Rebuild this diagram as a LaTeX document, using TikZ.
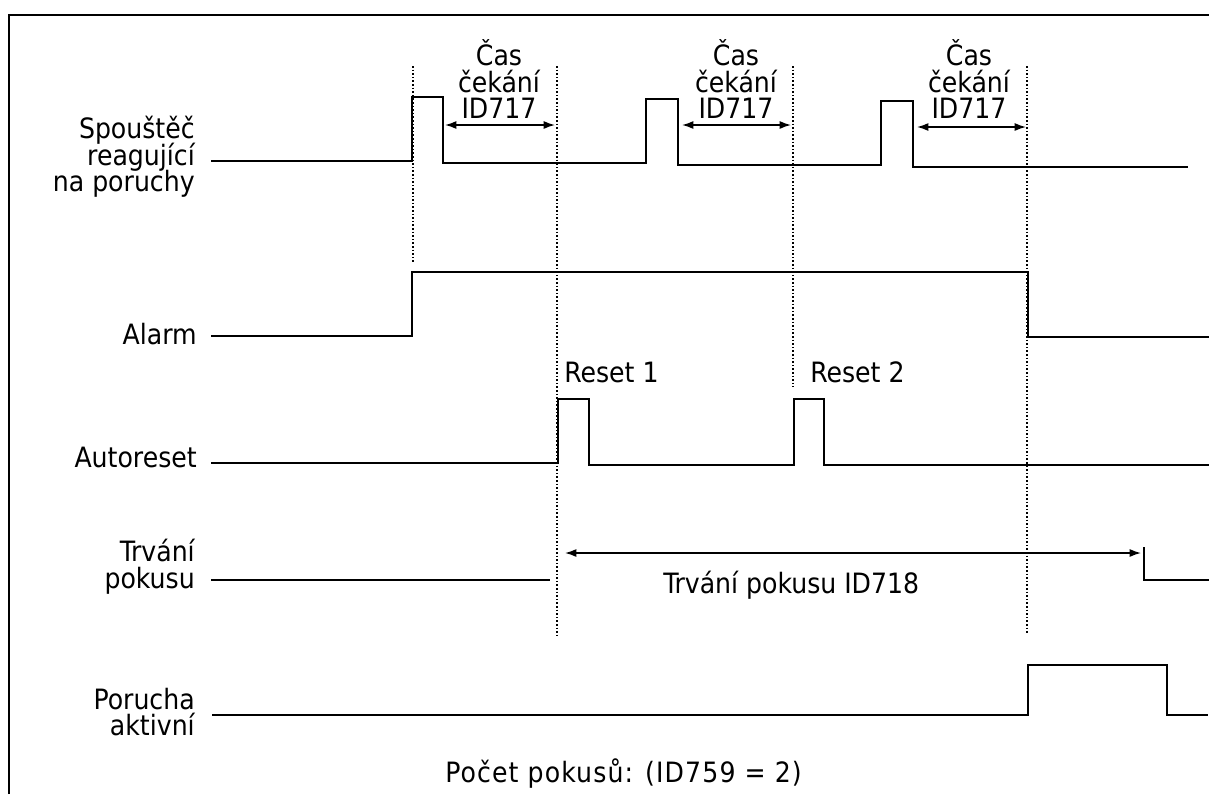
\documentclass[tikz,border=0pt]{standalone}
\usepackage{fontspec}
\setmainfont{DejaVu Sans Condensed}
\usetikzlibrary{arrows.meta}
\begin{document}
\begin{tikzpicture}[x=0.75pt,y=-0.75pt,
  sig/.style={line width=1.2pt, line join=miter},
  guide/.style={line width=0.8pt, dash pattern=on 1.2pt off 1.5pt},
  dim/.style={line width=1.1pt, {Latex[length=8.5pt,width=6pt]}-{Latex[length=8.5pt,width=6pt]}},
  lbl/.style={inner sep=0pt, font=\fontsize{21pt}{20pt}\selectfont},
  frameline/.style={line width=0.9pt}]
\useasboundingbox (0,0) rectangle (1209,794);
% frame
\draw[frameline] (9,794) -- (9,15) -- (1209,15);
% guides
\draw[guide] (413,66) -- (413,264);
\draw[guide] (557,66) -- (557,638);
\draw[guide] (793,66) -- (793,387);
\draw[guide] (1027,66) -- (1027,633);
% signals
\draw[sig] (211,161) -- (412,161) -- (412,97) -- (443,97) -- (443,163) -- (646,163) -- (646,99) -- (678,99) -- (678,165) -- (881,165) -- (881,101) -- (913,101) -- (913,167) -- (1188,167);
\draw[sig] (211,336) -- (412,336) -- (412,272) -- (1028,272) -- (1028,337) -- (1209,337);
\draw[sig] (211,463) -- (558,463) -- (558,399) -- (589,399) -- (589,465) -- (794,465) -- (794,399) -- (824,399) -- (824,465) -- (1209,465);
\draw[sig] (211,580) -- (550,580);
\draw[sig] (1144,547) -- (1144,580) -- (1209,580);
\draw[sig] (212,715) -- (1028,715) -- (1028,665) -- (1167,665) -- (1167,715) -- (1208,715);
% dimension arrows
\coordinate (a1l) at (445,125); \coordinate (a1r) at (555,125);
\coordinate (a2l) at (682,125); \coordinate (a2r) at (791,125);
\coordinate (a3l) at (917,127); \coordinate (a3r) at (1026,127);
\coordinate (a4l) at (565,553); \coordinate (a4r) at (1141,553);
\draw[dim] (a1l) -- (a1r);
\draw[dim] (a2l) -- (a2r);
\draw[dim] (a3l) -- (a3r);
\draw[dim] (a4l) -- (a4r);
% wait labels
\foreach \cx/\n in {499/1,736/2,969/3}{
  \node[lbl,anchor=base] (c\n a) at (\cx,65) {Čas};
  \node[lbl,anchor=base] (c\n b) at (\cx,92) {čekání};
  \node[lbl,anchor=base] (c\n c) at (\cx,118) {ID717};
}
% signal labels
\node[lbl,anchor=base east] (s1) at (195,138) {Spouštěč};
\node[lbl,anchor=base east] (s2) at (195,165) {reagující};
\node[lbl,anchor=base east] (s3) at (195,191) {na poruchy};
\node[lbl,anchor=base east] (al) at (197,344) {Alarm};
\node[lbl,anchor=base east] (ar) at (197,467) {Autoreset};
\node[lbl,anchor=base east] (t1) at (195,561) {Trvání};
\node[lbl,anchor=base east] (t2) at (195,588) {pokusu};
\node[lbl,anchor=base east] (p1) at (195,709) {Porucha};
\node[lbl,anchor=base east] (p2) at (195,735) {aktivní};
% other texts
\node[lbl,anchor=base west] (r1) at (564,382) {Reset 1};
\node[lbl,anchor=base west] (r2) at (810,382) {Reset 2};
\node[lbl,anchor=base west] (tp) at (663,593) {Trvání pokusu ID718};
\node[lbl,anchor=base west] (pc) at (445,782) {\addfontfeatures{LetterSpace=4}Počet pokusů: (ID759 = 2)};
\end{tikzpicture}
\end{document}
